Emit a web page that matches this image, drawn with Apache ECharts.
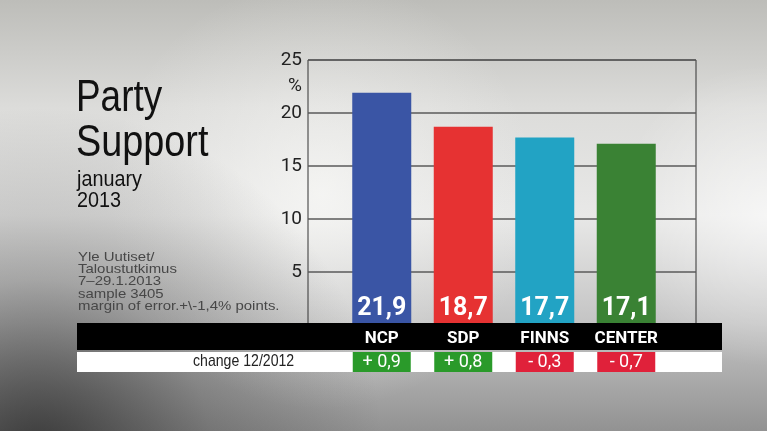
<!DOCTYPE html>
<html>
<head>
<meta charset="utf-8">
<script src="https://cdn.jsdelivr.net/npm/echarts@6/dist/echarts.min.js"></script>
<style>
  html, body { margin: 0; padding: 0; }
  #chart-container { width: 767px; height: 431px; }
</style>
</head>
<body>
<div id="chart-container"></div>
<script>
const parties = ['NCP', 'SDP', 'FINNS', 'CENTER'];
const support = [21.9, 18.7, 17.7, 17.1];
const change = [0.9, 0.8, -0.3, -0.7];
const partyColors = ['#3a55a5', '#e63232', '#22a3c4', '#3a8234'];
const yTicks = [5, 10, 15, 20, 25];

const helv = '"Liberation Sans", Arial, sans-serif';
const cond = 'Roboto, "Liberation Sans", sans-serif';

const fmt = (v) => String(v).replace('.', ',');
const fmtChange = (v) => (v > 0 ? '+ ' : '- ') + fmt(Math.abs(v));

const chart = echarts.init(document.getElementById('chart-container'));

// text squeezed sideways to look like the condensed face of the original
const squeezed = (text, x, y, size, sx, color) => ({
  type: 'text', x: x, y: y, scaleX: sx, silent: true,
  style: { text: text, font: size + 'px ' + helv, fill: color, align: 'left', verticalAlign: 'top' }
});

const bgRect = (z, fill) => ({
  type: 'rect', z: z, silent: true,
  shape: { x: 0, y: 0, width: 767, height: 431 },
  style: { fill: fill }
});

var option = {
  animation: false,
  graphic: [
    bgRect(-100, new echarts.graphic.LinearGradient(0, 0, 0, 1, [
      { offset: 0, color: '#bdbdb9' },
      { offset: 0.25, color: '#dcdcda' },
      { offset: 0.5, color: '#e8e8e7' },
      { offset: 0.75, color: '#c4c4c4' },
      { offset: 1, color: '#929292' }
    ])),
    bgRect(-99, new echarts.graphic.RadialGradient(0.42, 0.45, 0.5, [
      { offset: 0, color: 'rgba(250,250,248,0.7)' },
      { offset: 0.6, color: 'rgba(245,245,243,0.25)' },
      { offset: 1, color: 'rgba(245,245,243,0)' }
    ])),
    bgRect(-98, new echarts.graphic.RadialGradient(1, 0.5, 0.35, [
      { offset: 0, color: 'rgba(255,255,255,0.6)' },
      { offset: 1, color: 'rgba(255,255,255,0)' }
    ])),
    bgRect(-97, new echarts.graphic.RadialGradient(0.05, 1.05, 0.8, [
      { offset: 0, color: 'rgba(30,30,30,0.75)' },
      { offset: 0.5, color: 'rgba(30,30,30,0.25)' },
      { offset: 1, color: 'rgba(30,30,30,0)' }
    ])),
    squeezed('Party', 76, 76, 45, 0.82, '#111'),
    squeezed('Support', 76, 121, 45, 0.84, '#111'),
    squeezed('january', 77, 169, 22, 0.9, '#111'),
    squeezed('2013', 77, 190, 22, 0.9, '#111'),
    {
      type: 'text', x: 78, y: 251, scaleX: 1.15, silent: true,
      style: {
        text: 'Yle Uutiset/\nTaloustutkimus\n7\u201329.1.2013\nsample 3405\nmargin of error.+\\-1,4% points.',
        font: '13px ' + helv, fill: '#474747', lineHeight: 12.3
      }
    },
    {
      type: 'text', x: 302, y: 77, silent: true,
      style: { text: '%', font: '19px ' + cond, fill: '#222', align: 'right', verticalAlign: 'top' }
    },
    {
      type: 'rect', z: 3, silent: true,
      shape: { x: 77, y: 323, width: 645, height: 27 },
      style: { fill: '#000' }
    },
    {
      type: 'rect', z: 3, silent: true,
      shape: { x: 77, y: 352, width: 645, height: 20 },
      style: { fill: '#fff' }
    },
    {
      type: 'text', z: 4, x: 193, y: 353, scaleX: 0.83, silent: true,
      style: { text: 'change 12/2012', font: '17px ' + helv, fill: '#222', verticalAlign: 'top' }
    }
  ],
  grid: [
    { left: 308, top: 60, width: 388, height: 265, show: true, borderColor: '#333', borderWidth: 1 },
    { left: 341, top: 60, width: 326, height: 265 },
    { left: 341, top: 352, width: 326, height: 20 }
  ],
  xAxis: [
    { gridIndex: 0, type: 'value', show: false, min: 0, max: 1 },
    {
      gridIndex: 1, type: 'category', data: parties, z: 10,
      axisLine: { show: false }, axisTick: { show: false },
      axisLabel: { interval: 0, color: '#fff', fontFamily: cond, fontWeight: 'bold', fontSize: 17, margin: 5 }
    },
    { gridIndex: 2, type: 'category', data: parties, show: false }
  ],
  yAxis: [
    {
      gridIndex: 0, type: 'value', min: 0, max: 25, interval: 5,
      axisLine: { show: false }, axisTick: { show: false },
      axisLabel: {
        color: '#222', fontFamily: cond, fontSize: 19, margin: 6,
        formatter: (v) => (yTicks.indexOf(v) >= 0 ? String(v) : '')
      },
      splitLine: { lineStyle: { color: '#5a5a5a', width: 1.5 } }
    },
    { gridIndex: 1, type: 'value', min: 0, max: 25, show: false },
    { gridIndex: 2, type: 'value', min: 0, max: 1, show: false }
  ],
  series: [
    {
      type: 'bar', xAxisIndex: 1, yAxisIndex: 1, barWidth: 59,
      data: support.map((v, i) => ({ value: v, itemStyle: { color: partyColors[i] } })),
      label: {
        show: true, position: 'insideBottom', distance: 4,
        color: '#fff', fontFamily: cond, fontWeight: 'bold', fontSize: 25,
        formatter: (p) => fmt(p.value)
      }
    },
    {
      type: 'bar', xAxisIndex: 2, yAxisIndex: 2, barWidth: 58, z: 5,
      data: change.map((v) => ({ value: 1, itemStyle: { color: v > 0 ? '#2a9a2a' : '#e0213a' } })),
      label: {
        show: true, position: 'inside',
        color: '#fff', fontFamily: cond, fontSize: 18,
        formatter: (p) => fmtChange(change[p.dataIndex])
      }
    }
  ]
};
chart.setOption(option);
</script>
</body>
</html>
